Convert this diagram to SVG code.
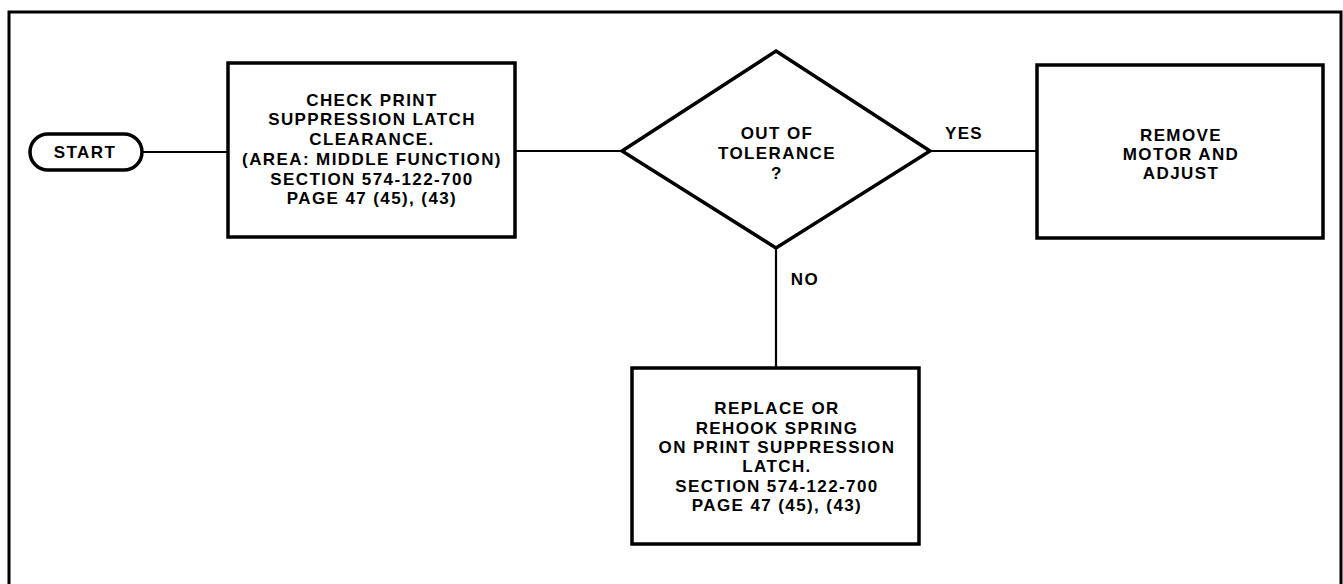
<svg xmlns="http://www.w3.org/2000/svg" width="1343" height="584" viewBox="0 0 1343 584">
<style>
.t{font-family:"Liberation Sans",Arial,sans-serif;font-weight:bold;font-size:17px;letter-spacing:1.4px;fill:#000;text-anchor:middle}
.box{fill:#fff;stroke:#000;stroke-width:3.5}
.conn{stroke:#000;stroke-width:2.2;fill:none}
</style>
<rect width="1343" height="584" fill="#fff"/>
<path id="frame" d="M9,590 V12 H1341 V590" fill="none" stroke="#000" stroke-width="3"/>
<g id="connectors">
<line class="conn" x1="142" y1="152" x2="228" y2="152"/>
<line class="conn" x1="515" y1="151" x2="622" y2="151"/>
<line class="conn" x1="930" y1="151" x2="1037" y2="151"/>
<line class="conn" x1="776" y1="248" x2="776" y2="368"/>
<text class="t" x="964" y="139">YES</text>
<text class="t" x="805" y="285">NO</text>
</g>
<g id="start">
<rect class="box" x="30" y="134" width="112" height="36" rx="18" stroke-width="3"/>
<text class="t" x="85" y="158">START</text>
</g>
<g id="check">
<rect class="box" x="228" y="63" width="287" height="174"/>
<text class="t" x="372" y="106">CHECK PRINT</text>
<text class="t" x="372" y="125">SUPPRESSION LATCH</text>
<text class="t" x="372" y="145">CLEARANCE.</text>
<text class="t" x="372" y="165">(AREA: MIDDLE FUNCTION)</text>
<text class="t" x="372" y="185">SECTION 574-122-700</text>
<text class="t" x="372" y="204">PAGE 47 (45), (43)</text>
</g>
<g id="decision">
<polygon class="box" points="776,51 930,151 776,248 622,151"/>
<text class="t" x="777" y="139">OUT OF</text>
<text class="t" x="777" y="159">TOLERANCE</text>
<text class="t" x="777" y="179">?</text>
</g>
<g id="remove">
<rect class="box" x="1037" y="65" width="286" height="173"/>
<text class="t" x="1181" y="141">REMOVE</text>
<text class="t" x="1181" y="160">MOTOR AND</text>
<text class="t" x="1181" y="179">ADJUST</text>
</g>
<g id="replace">
<rect class="box" x="632" y="368" width="287" height="176"/>
<text class="t" x="777" y="414">REPLACE OR</text>
<text class="t" x="777" y="434">REHOOK SPRING</text>
<text class="t" x="777" y="453">ON PRINT SUPPRESSION</text>
<text class="t" x="777" y="472">LATCH.</text>
<text class="t" x="777" y="492">SECTION 574-122-700</text>
<text class="t" x="777" y="511">PAGE 47 (45), (43)</text>
</g>
</svg>
